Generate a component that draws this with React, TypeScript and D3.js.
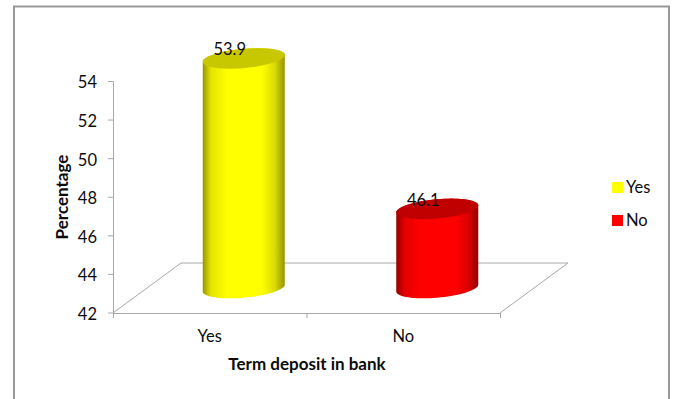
import React from "react";
import * as d3 from "d3";

const categories = ["Yes", "No"];
const percentages = [53.9, 46.1];
const barColours = ["#ffff00", "#ff0000"];
const capColours = ["#c8c800", "#c00000"];
const edgeColours = ["#949400", "#940000"];
const yTicks = [42, 44, 46, 48, 50, 52, 54];

const W = 674;
const H = 399;
const FONT = "Lato, 'Open Sans', sans-serif";
const GRID = "#a8a8a8";
const INK = "#0c0c0c";
const LABEL_SIZE = 16.5;
const TITLE_SIZE = 17;

// Projection of the floor plane: how far the back edge sits from the front edge.
const depthX = 68;
const depthY = 50;
const radiusX = 41;
const radiusY = 9.7;
const tilt = 3.5;

const x = d3.scaleBand<string>().domain(categories).range([113, 500]);
const y = d3.scaleLinear().domain([42, 54]).range([313, 81.5]);

const ringPoint = (cx: number, cy: number, t: number): [number, number] => [
  cx + radiusX * Math.cos(t),
  cy + radiusY * Math.sin(t) - tilt * Math.cos(t),
];

const line = d3.line<[number, number]>();

function capPath(cx: number, cy: number) {
  const pts = d3.range(0, 73).map((i) => ringPoint(cx, cy, (i / 72) * 2 * Math.PI));
  return line(pts) + "Z";
}

function bodyPath(cx: number, top: number, bottom: number) {
  const lower = d3.range(0, 37).map((i) => ringPoint(cx, bottom, (i / 36) * Math.PI));
  const upper = d3.range(0, 37).map((i) => ringPoint(cx, top, Math.PI + (i / 36) * Math.PI));
  return line([...lower, ...upper]) + "Z";
}

export default function App() {
  const base = y(42);
  return (
    <svg
      width={W}
      height={H}
      style={{ position: "absolute", left: 0, top: 0, background: "#fff" }}
      fontFamily={FONT}
    >
      <defs>
        {categories.map((c, i) => (
          <linearGradient key={c} id={`shade-${i}`} x1="0" x2="1" y1="0" y2="0">
            <stop offset="0" stopColor={edgeColours[i]} />
            <stop offset="0.1" stopColor={d3.interpolateRgb(edgeColours[i], barColours[i])(0.75)} />
            <stop offset="0.3" stopColor={barColours[i]} />
            <stop offset="0.72" stopColor={barColours[i]} />
            <stop offset="0.88" stopColor={d3.interpolateRgb(edgeColours[i], barColours[i])(0.65)} />
            <stop offset="1" stopColor={edgeColours[i]} />
          </linearGradient>
        ))}
      </defs>

      {/* Chart frame; its lower edge runs off the page */}
      <rect x={14} y={6.5} width={655} height={H + 10} fill="#fff" stroke="#989898" strokeWidth={2} />

      {/* Floor plane */}
      <path
        d={line([
          [x.range()[0], base],
          [x.range()[0] + depthX, base - depthY],
          [x.range()[1] + depthX, base - depthY],
          [x.range()[1], base],
        ]) as string}
        fill="none"
        stroke={GRID}
        strokeWidth={1}
      />

      {/* Value axis */}
      <line x1={113.5} x2={113.5} y1={y(54)} y2={base} stroke={GRID} />
      {yTicks.map((t) => (
        <g key={t}>
          <line x1={108} x2={113.5} y1={y(t)} y2={y(t)} stroke={GRID} />
          <text x={97} y={y(t)} dy="0.42em" textAnchor="end" fontSize={LABEL_SIZE} fill={INK}>
            {t}
          </text>
        </g>
      ))}

      {/* Category axis */}
      <line x1={113} x2={500} y1={base + 0.5} y2={base + 0.5} stroke={GRID} />
      {[...x.domain().map((c) => x(c) as number), x.range()[1]].map((p) => (
        <line key={p} x1={p + 0.5} x2={p + 0.5} y1={base} y2={base + 5} stroke={GRID} />
      ))}
      {categories.map((c) => (
        <text
          key={c}
          x={(x(c) as number) + x.bandwidth() / 2}
          y={342}
          textAnchor="middle"
          fontSize={LABEL_SIZE}
          fill={INK}
        >
          {c}
        </text>
      ))}

      {/* Cylinders */}
      {categories.map((c, i) => {
        const cx = (x(c) as number) + x.bandwidth() / 2 + depthX / 2;
        const bottom = y(42) - depthY / 2;
        const top = y(percentages[i]) - depthY / 2;
        return (
          <g key={c}>
            <path d={bodyPath(cx, top, bottom)} fill={`url(#shade-${i})`} />
            <path d={capPath(cx, top)} fill={capColours[i]} />
            <text
              x={cx - 14}
              y={top - 3}
              textAnchor="middle"
              fontSize={LABEL_SIZE}
              fill={INK}
            >
              {percentages[i]}
            </text>
          </g>
        );
      })}

      {/* Axis titles */}
      <text
        transform="translate(68,197) rotate(-90)"
        textAnchor="middle"
        fontSize={TITLE_SIZE}
        fontWeight={700}
        fill={INK}
      >
        Percentage
      </text>
      <text x={307} y={370} textAnchor="middle" fontSize={TITLE_SIZE} fontWeight={700} fill={INK}>
        Term deposit in bank
      </text>

      {/* Legend */}
      {categories.map((c, i) => (
        <g key={c} transform={`translate(612,${182 + i * 33})`}>
          <rect width={11} height={11} fill={barColours[i]} />
          <text x={14} y={5.5} dy="0.35em" fontSize={LABEL_SIZE} fill={INK}>
            {c}
          </text>
        </g>
      ))}
    </svg>
  );
}
